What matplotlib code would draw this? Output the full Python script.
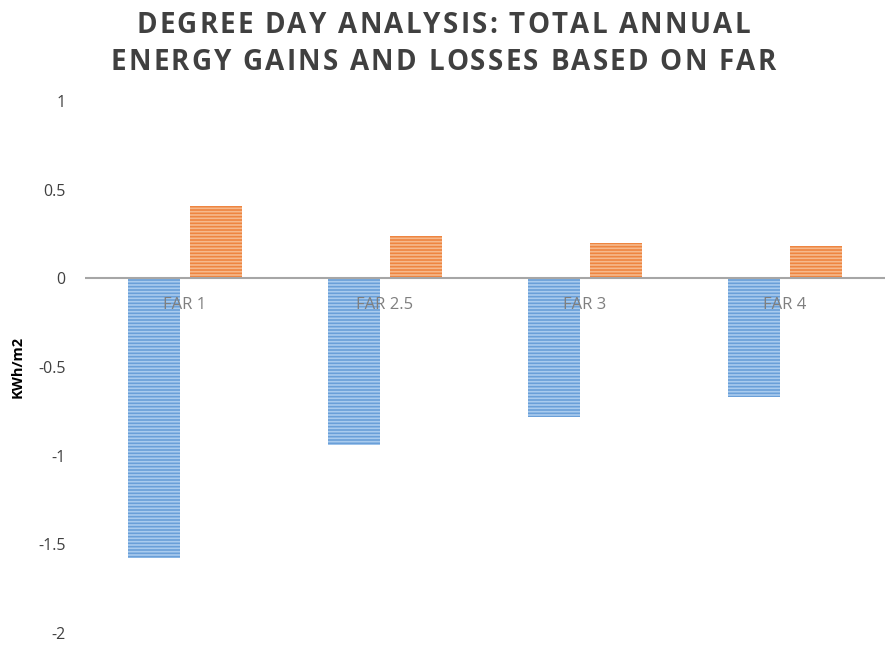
import matplotlib
matplotlib.use("Agg")
import matplotlib.pyplot as plt
import numpy as np
from matplotlib import font_manager, ft2font
from matplotlib.font_manager import FontProperties

categories = ["FAR 1", "FAR 2.5", "FAR 3", "FAR 4"]
losses = [-1.58, -0.94, -0.78, -0.67]
gains = [0.41, 0.24, 0.20, 0.18]
yticks = [1, 0.5, 0, -0.5, -1, -1.5, -2]
ytick_labels = ["1", "0.5", "0", "-0.5", "-1", "-1.5", "-2"]
title_lines = ["DEGREE DAY ANALYSIS: TOTAL ANNUAL", "ENERGY GAINS AND LOSSES BASED ON FAR"]

W, H, DPI = 889, 649, 100
plt.rcParams['hatch.linewidth'] = 1.2
fig = plt.figure(figsize=(W / DPI, H / DPI), dpi=DPI)
ax = fig.add_axes([0.0956, 0.0247, 0.8999, 0.8197])

x = np.arange(len(categories))
w = 0.26
off = 0.155
ax.bar(x - off, losses, w, color="#6A9FD8", edgecolor="#A9CBEE", hatch="-----", linewidth=0)
ax.bar(x + off, gains, w, color="#EE8540", edgecolor="#F6B98C", hatch="-----", linewidth=0)

ax.set_xlim(-0.5, 3.5)
ax.set_ylim(-2, 1)
ax.axhline(0, color="#A6A6A6", linewidth=1.5, zorder=3)
for s in ax.spines.values():
    s.set_visible(False)
ax.set_xticks([])
ax.set_yticks(yticks)
ax.set_yticklabels(ytick_labels, fontsize=11.5, color="#404040", fontfamily="Open Sans")
ax.tick_params(axis='y', length=0, pad=14)

for xi, c in zip(x, categories):
    ax.text(xi, -0.148, c, ha="center", va="center", fontsize=12, color="#7F7F7F",
            fontfamily="Open Sans", zorder=4)

ax.set_ylabel("KWh/m2", fontsize=10.5, fontweight="bold", color="#000000",
              fontfamily="Open Sans")
ax.yaxis.set_label_coords(-0.075, 0.5)

# Title with letter spacing, drawn character by character
tsize = 20
prop = FontProperties(family="Open Sans", weight="bold", size=tsize)
fpath = font_manager.findfont(prop)
font = ft2font.FT2Font(fpath)
font.set_size(tsize, DPI)

def advances(s):
    out = []
    for ch in s:
        g = font.load_char(ord(ch), flags=ft2font.LoadFlags.NO_HINTING)
        out.append(g.linearHoriAdvance / 65536.0)
    return out

adv2 = advances(title_lines[1])
spacing = (665 - sum(adv2)) / (len(title_lines[1]) - 1)
center_x = 443
baselines = [33, 70]
for line, base in zip(title_lines, baselines):
    adv = advances(line)
    total = sum(adv) + spacing * (len(line) - 1)
    px = center_x - total / 2
    for ch, a in zip(line, adv):
        if ch != " ":
            fig.text(px / W, 1 - base / H, ch, ha="left", va="baseline",
                     fontproperties=prop, color="#404040")
        px += a + spacing

fig.savefig("out.png", dpi=DPI, facecolor="white")
